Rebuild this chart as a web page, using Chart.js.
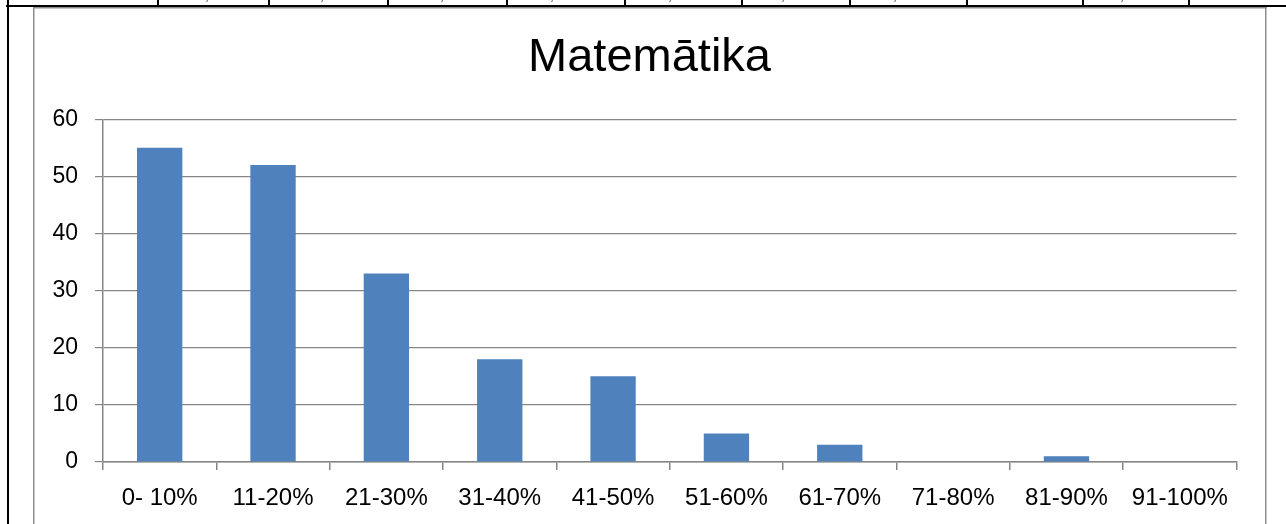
<!DOCTYPE html>
<html>
<head>
<meta charset="utf-8">
<script src="https://cdn.jsdelivr.net/npm/chart.js@4/dist/chart.umd.min.js"></script>
<style>
  html, body { margin: 0; padding: 0; background: #fff; }
  #c { display: block; }
</style>
</head>
<body>
<canvas id="c" width="1286" height="524"></canvas>
<script>
// ---- data ----
const categories = ['0- 10%', '11-20%', '21-30%', '31-40%', '41-50%', '51-60%', '61-70%', '71-80%', '81-90%', '91-100%'];
const counts = [55, 52, 33, 18, 15, 5, 3, 0, 1, 0];
const yMin = 0;
const yMax = 60;
const yStep = 10;
const chartTitle = 'Matemātika';

// ---- layout / style (decorative page frame) ----
const FONT = "'Liberation Sans', Arial, sans-serif";
const tableDividers = [158, 269, 388, 507, 625, 742, 850, 967, 1083, 1189];
const commaMarks = [207, 322, 442, 552, 670, 783, 895, 1122];

const framePlugin = {
  id: 'frame',
  beforeDraw(chart) {
    const ctx = chart.ctx;
    ctx.save();
    ctx.fillStyle = '#fff';
    ctx.fillRect(0, 0, chart.width, chart.height);
    // gray chart border
    ctx.fillStyle = '#8e8e8e';
    ctx.fillRect(33, 7, 1234, 1.5);
    ctx.fillRect(33, 7, 1.5, 517);
    ctx.fillRect(1265, 7, 1.5, 517);
    // black table lines
    ctx.fillStyle = '#000';
    ctx.fillRect(6, 5, 1280, 2);
    ctx.fillRect(7, 0, 2, 524);
    tableDividers.forEach(x => ctx.fillRect(x - 1, 0, 2, 6));
    // cut-off text fragments from the row above
    ctx.fillStyle = '#333';
    ctx.font = '14px ' + FONT;
    ctx.textAlign = 'center';
    ctx.textBaseline = 'alphabetic';
    commaMarks.forEach(x => ctx.fillText(',', x, -0.5));
    ctx.restore();
  }
};

new Chart(document.getElementById('c'), {
  type: 'bar',
  data: {
    labels: categories,
    datasets: [{
      data: counts,
      backgroundColor: '#4F81BD',
      borderWidth: 0,
      barPercentage: 0.4,
      categoryPercentage: 1.0,
      yAxisID: 'y'
    }]
  },
  options: {
    responsive: false,
    animation: false,
    devicePixelRatio: 1,
    layout: { padding: { left: 36, right: 23, top: 0, bottom: 0 } },
    plugins: {
      legend: { display: false },
      tooltip: { enabled: false },
      title: {
        display: true,
        text: chartTitle,
        color: '#000',
        font: { family: FONT, size: 47, weight: 'normal', lineHeight: 1.2 },
        padding: { top: 29.8, bottom: 33.1 }
      }
    },
    scales: {
      x: {
        grid: { drawOnChartArea: false, drawTicks: true, tickLength: 8, color: '#868686', offset: true, lineWidth: 1.5 },
        border: { color: '#868686', width: 1.5 },
        ticks: { color: '#000', font: { family: FONT, size: 24 }, padding: 14, maxRotation: 0, autoSkip: false },
        afterFit(s) { s.height = 62; }
      },
      y: {
        position: 'left',
        min: yMin,
        max: yMax,
        grid: { color: '#868686', tickLength: 8, lineWidth: 1.2 },
        border: { color: '#868686', width: 1.5 },
        ticks: { stepSize: yStep, color: '#000', font: { family: FONT, size: 23 }, padding: 17 },
        afterFit(s) { s.width = 67; }
      },
      spacer: {
        position: 'right',
        type: 'linear',
        min: yMin,
        max: yMax,
        grid: { display: false },
        border: { display: false },
        ticks: { display: false },
        afterFit(s) { s.width = 26.5; }
      }
    }
  },
  plugins: [framePlugin]
});
</script>
</body>
</html>
